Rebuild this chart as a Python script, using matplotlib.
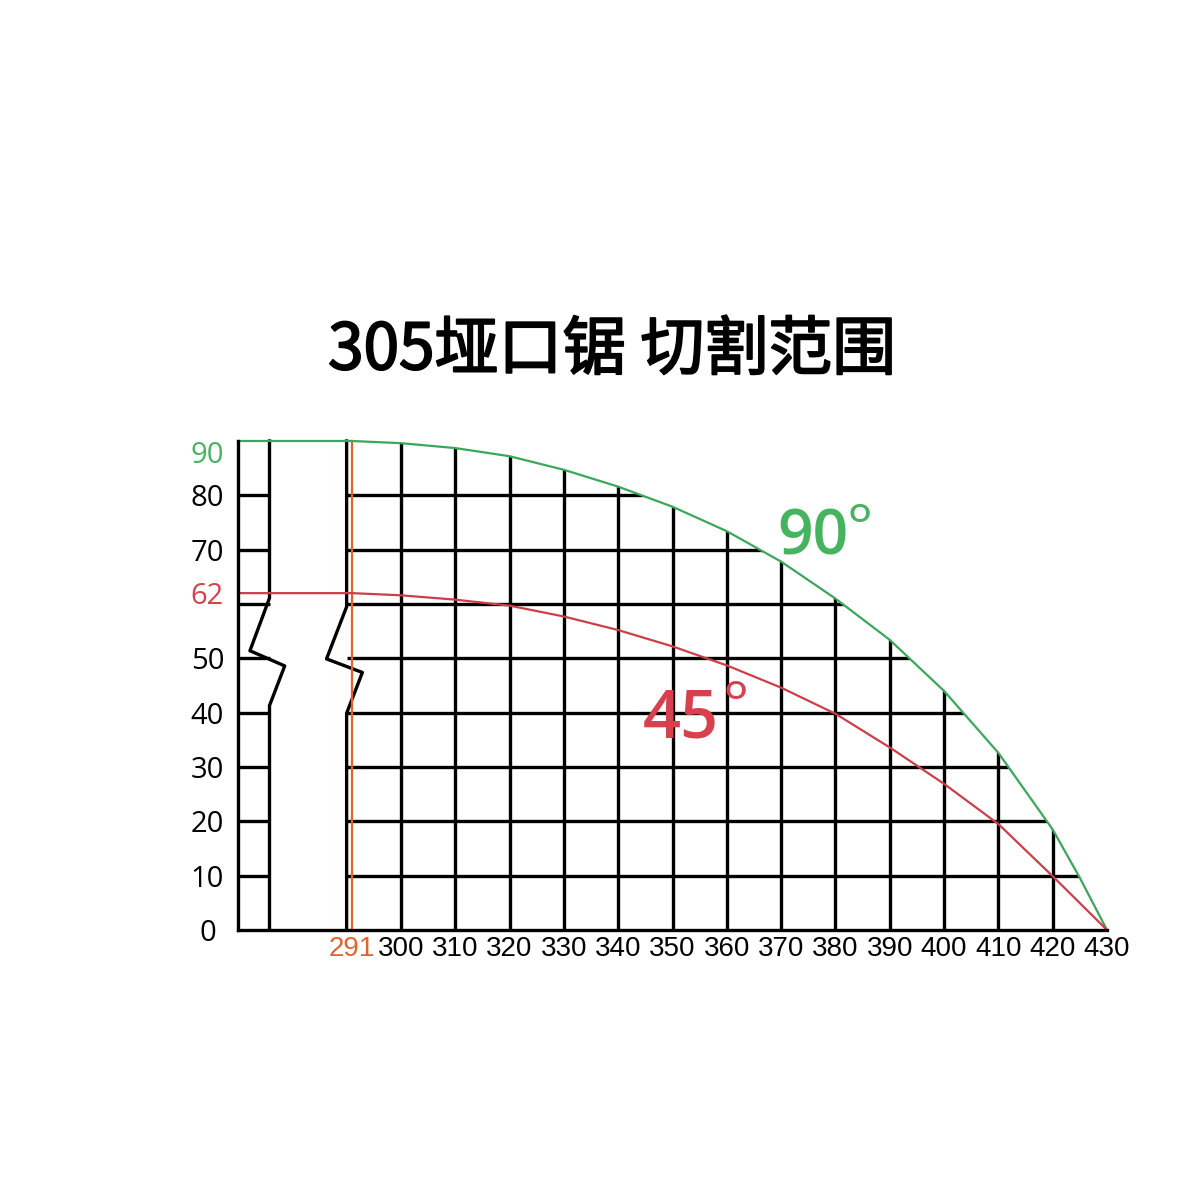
import matplotlib
matplotlib.use('Agg')
import matplotlib.pyplot as plt
import matplotlib.patheffects as pe
from matplotlib.patches import Polygon

# ---------------------------------------------
# data
# ---------------------------------------------
title = '305垭口锯 切割范围'

# 90 degree cut: width (mm) vs height (mm)
x90 = [270, 291, 300, 310, 320, 330, 340, 350, 360, 370, 380, 390, 400, 410, 420, 425, 430]
y90 = [90, 90, 89.6, 88.7, 87.2, 84.7, 81.6, 77.9, 73.4, 67.8, 61.0, 53.4, 44.0, 32.6, 18.5, 9.6, 0]

# 45 degree cut
x45 = [270, 291, 300, 310, 320, 330, 340, 350, 360, 370, 380, 390, 400, 410, 420, 430]
y45 = [62, 62, 61.6, 60.8, 59.7, 57.7, 55.2, 52.2, 48.7, 44.6, 39.8, 33.6, 26.9, 19.5, 9.9, 0]

grid_x = [300, 310, 320, 330, 340, 350, 360, 370, 380, 390, 400, 410, 420]
grid_y = [10, 20, 30, 40, 50, 60, 70, 80]

yticks = [0, 10, 20, 30, 40, 50, 62, 70, 80, 90]
ylabels = ['0', '10', '20', '30', '40', '50', '62', '70', '80', '90']
xticks = [291, 300, 310, 320, 330, 340, 350, 360, 370, 380, 390, 400, 410, 420, 430]
xlabels = [str(v) for v in xticks]
min_width = 291

# broken axis zigzags
brk_lx = [275.8, 275.8, 272.2, 278.6, 275.8, 275.8]
brk_ly = [90, 61.1, 51.4, 48.6, 41.3, 0]
brk_rx = [290, 290, 286.3, 292.9, 290, 290]
brk_ry = [90, 59.5, 49.9, 47.4, 39.9, 0]

green = '#3aa85a'
green_txt = '#46b45f'
red = '#cc3f4a'
red_txt = '#d8404d'
orange = '#e2632c'

# ---------------------------------------------
# figure
# ---------------------------------------------
fig = plt.figure(figsize=(12, 11.99), dpi=100)
ax = fig.add_axes([238/1200, 1 - 930/1199, 869/1200, 489/1199])
ax.set_xlim(270, 430)
ax.set_ylim(0, 90)

for s in ['top', 'right']:
    ax.spines[s].set_visible(False)
for s in ['left', 'bottom']:
    ax.spines[s].set_linewidth(2.4)
    ax.spines[s].set_color('black')

# area under the 90 degree curve, used to clip the grid
area = Polygon(list(zip(x90, y90)) + [(430, 0), (270, 0)], closed=True,
               facecolor='none', edgecolor='none')
ax.add_patch(area)

vl = ax.vlines(grid_x, 0, 90, color='black', lw=2.4)
vl.set_clip_path(area)
hl = ax.hlines(grid_y, 290, 430, color='black', lw=2.4)
hl.set_clip_path(area)
ax.hlines(grid_y, 270, brk_lx[0], color='black', lw=2.4)

ax.plot(brk_lx, brk_ly, color='black', lw=2.4, clip_on=False)
ax.plot(brk_rx, brk_ry, color='black', lw=2.4, clip_on=False)

ax.axvline(min_width, ymax=1, color=orange, lw=1.6, clip_on=False)

ax.plot(x90, y90, color=green, lw=1.6, clip_on=False)
ax.plot(x45, y45, color=red, lw=1.6, clip_on=False)

# ticks
ax.set_yticks(yticks)
ax.set_yticklabels(ylabels, family='Open Sans', fontsize=21, ha='center')
ax.set_xticks(xticks)
ax.set_xticklabels(xlabels, family=['Liberation Sans', 'DejaVu Sans'], fontsize=20)
ax.tick_params(axis='y', length=0, pad=22)
ax.tick_params(axis='x', length=0, pad=4)
for lab in ax.get_yticklabels():
    if lab.get_text() == '90':
        lab.set_color(green_txt)
        lab.set_va('top')
    elif lab.get_text() == '62':
        lab.set_color(red_txt)
ax.get_xticklabels()[0].set_color(orange)

# curve labels
ax.text(375.8, 69.1, '90', color=green_txt, fontsize=45, family='Open Sans',
        fontweight='semibold', ha='center', va='baseline')
ax.text(384.5, 70.5, '°', color=green_txt, fontsize=44, family='Open Sans',
        ha='center', va='baseline')
ax.text(351.6, 35.5, '45', color=red_txt, fontsize=48, family='Open Sans',
        fontweight='semibold', ha='center', va='baseline')
ax.text(361.7, 37.9, '°', color=red_txt, fontsize=44, family='Open Sans',
        ha='center', va='baseline')

fig.text(0.51, 1 - 351/1199, title, fontsize=46, ha='center', va='center',
         family=['Noto Sans CJK SC', 'DejaVu Sans'],
         path_effects=[pe.withStroke(linewidth=1.4, foreground='black')])

plt.savefig('out.png', dpi=100, facecolor='white')
